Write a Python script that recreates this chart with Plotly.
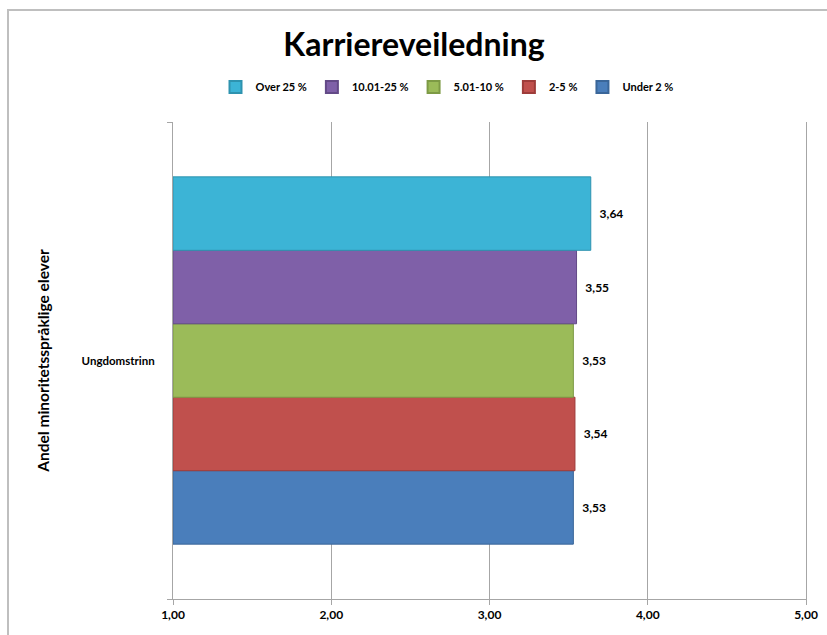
import plotly.graph_objects as go

categories = ["Ungdomstrinn"]
series_names = ["Under 2 %", "2-5 %", "5.01-10 %", "10.01-25 %", "Over 25 %"]
series_values = [[3.53], [3.54], [3.53], [3.55], [3.64]]
series_colors = ["#4A7EBB", "#C0504D", "#9BBB59", "#7F60A8", "#3CB4D6"]
line_colors = ["#3A6699", "#9E3C3A", "#7D9A45", "#634A87", "#2E93AF"]
x_ticks = [1, 2, 3, 4, 5]
axis_base = 1

FONT = "Lato, 'Open Sans', sans-serif"

fig = go.Figure()
for name, vals, col, lc in zip(series_names, series_values, series_colors, line_colors):
    fig.add_trace(go.Bar(
        y=categories, x=[v - axis_base for v in vals], base=axis_base,
        customdata=vals, name=name, orientation="h",
        marker=dict(color=col, line=dict(color=lc, width=1)),
        texttemplate="\u00a0\u00a0%{customdata:.2f}",
        textposition="outside",
        textfont=dict(family=FONT, size=12, color="black", weight="bold"),
        cliponaxis=False,
    ))

fig.update_layout(
    width=827, height=635,
    margin=dict(l=173, r=21, t=122, b=36, autoexpand=False),
    paper_bgcolor="white", plot_bgcolor="white",
    separators=",.",
    barmode="group", bargap=0.23, bargroupgap=0,
    title=dict(text="Karriereveiledning", x=414 / 827, xref="container", xanchor="center",
               y=1 - 45 / 635, yref="container", yanchor="middle",
               font=dict(family=FONT, size=32, color="black", weight="bold")),
    legend=dict(orientation="h", x=447 / 827, xref="container", xanchor="center",
                y=1 - 87 / 635, yref="container", yanchor="middle",
                traceorder="reversed", font=dict(family=FONT, size=11, color="black", weight="bold"),
                itemwidth=30, itemsizing="constant"),
    showlegend=True,
    xaxis=dict(range=[1, 5], tickvals=x_ticks, tickformat=".2f",
               showgrid=True, gridcolor="#A6A6A6", gridwidth=1,
               showline=True, linecolor="#A6A6A6", ticks="outside", ticklen=5, tickcolor="#A6A6A6",
               tickfont=dict(family=FONT, size=12, color="black", weight="bold"), zeroline=False),
    yaxis=dict(showline=True, mirror=True, linecolor="#A6A6A6", ticks="outside", tickson="boundaries",
               ticklen=5, tickcolor="#A6A6A6", ticklabelstandoff=15,
               tickfont=dict(family=FONT, size=11.5, color="black", weight="bold"),
               title=dict(text="Andel minoritetsspråklige elever", standoff=28,
                          font=dict(family=FONT, size=15.5, color="black", weight="bold"))),
    shapes=[dict(type="rect", xref="paper", yref="paper",
                 x0=(8 - 173) / 633, x1=1.5, y0=-0.5, y1=(599 - 10) / 477,
                 line=dict(color="#BFBFBF", width=2), fillcolor="rgba(0,0,0,0)", layer="below")],
)
fig.write_html("out.html", config={"displayModeBar": False})

with open("out.html", "r", encoding="utf-8") as f:
    html = f.read()
html = html.replace("<body>", '<body style="margin:0;padding:0;">', 1)
with open("out.html", "w", encoding="utf-8") as f:
    f.write(html)
